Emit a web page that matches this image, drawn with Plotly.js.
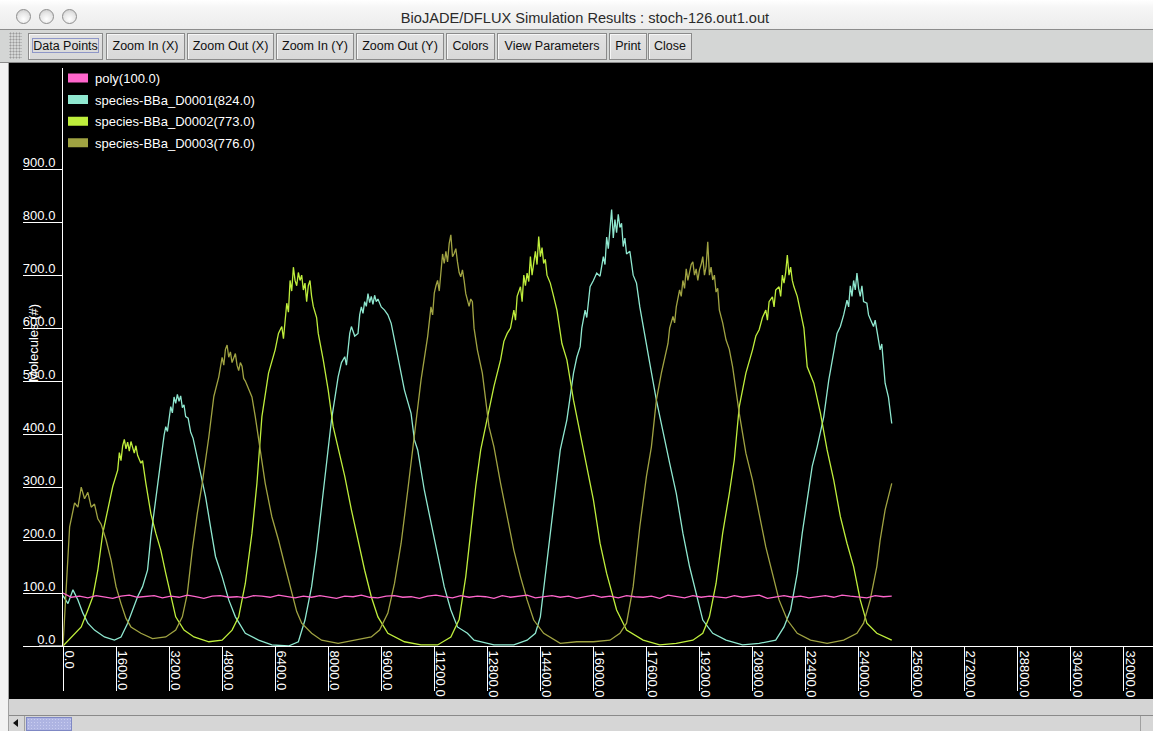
<!DOCTYPE html>
<html>
<head>
<meta charset="utf-8">
<script src="https://cdn.plot.ly/plotly-3.0.1.min.js"></script>
<style>
  html, body { margin:0; padding:0; }
  body { width:1153px; height:731px; overflow:hidden; position:relative; background:#d4d4d4;
         font-family:"Liberation Sans", Arial, sans-serif; }
  #titlebar { position:absolute; left:0; top:0; width:1153px; height:29px;
              background:linear-gradient(#ffffff 0%, #f6f6f6 25%, #ececec 100%);
              border-bottom:1px solid #8c8c8c; }
  .wbtn { position:absolute; top:9px; width:13px; height:13px; border-radius:50%;
          border:1px solid #8e8e8e; background:radial-gradient(circle at 50% 70%, #ffffff 0%, #e6e6e6 55%, #c4c4c4 100%); }
  #title { position:absolute; left:385px; width:400px; top:0; height:29px; line-height:36px; white-space:nowrap;
           text-align:center; font-size:14.6px; color:#2a2a2a; }
  #toolbar { position:absolute; left:0; top:30px; width:1153px; height:32px; background:#d4d6d5;
             border-bottom:1px solid #8a8a8a; }
  #grip { position:absolute; left:9px; top:2px; width:13px; height:27px;
          background-image:radial-gradient(#9a9a9a 0.9px, transparent 1.1px); background-size:3px 3px; }
  .btn { position:absolute; top:3px; height:27px; box-sizing:border-box; border:1px solid #8a8a8a;
         background:linear-gradient(#e2e2e2, #d8d8d8); box-shadow: inset 1px 1px 0 #f6f6f6;
         font-size:12.5px; line-height:25px; text-align:center; color:#111; white-space:nowrap; overflow:hidden; }
  .focus { position:absolute; left:3px; top:4px; right:3px; bottom:6px; border:1px solid #8f97c8; }
  #leftframe { position:absolute; left:0; top:63px; width:8px; height:668px; background:#f2f2f2;
               border-right:1px solid #a0a0a0; }
  #chart { position:absolute; left:9px; top:63px; width:1144px; height:636px; background:#000; }
  #bottom { position:absolute; left:9px; top:699px; width:1144px; height:16px; background:#d4d4d4;
            border-bottom:1px solid #8a8a8a; }
  #scroll { position:absolute; left:9px; top:716px; width:1144px; height:15px; background:#d6d6d6; }
  #larrow { position:absolute; left:0; top:0; width:15px; height:15px; background:#d6d6d6; border-right:1px solid #a0a0a0; }
  #larrow:after { content:""; position:absolute; left:4px; top:3px; border-top:4px solid transparent;
                  border-bottom:4px solid transparent; border-right:5px solid #111; }
  #thumb { position:absolute; left:17px; top:1px; width:46px; height:14px; box-sizing:border-box;
           border:1px solid #7f88c4; background-color:#aeb4e2;
           background-image:radial-gradient(#c9cdf0 0.8px, transparent 1px); background-size:3px 3px; }
  #rarrow { position:absolute; left:1131px; top:0; width:13px; height:15px; border-left:1px solid #a0a0a0; }
</style>
</head>
<body>
<div id="titlebar">
  <div class="wbtn" style="left:16px"></div>
  <div class="wbtn" style="left:39px"></div>
  <div class="wbtn" style="left:62px"></div>
  <div id="title">BioJADE/DFLUX Simulation Results : stoch-126.out1.out</div>
</div>
<div id="toolbar">
  <div id="grip"></div>
  <div class="btn" style="left:28px;width:75px">Data Points<div class="focus"></div></div>
  <div class="btn" style="left:106px;width:79px">Zoom In (X)</div>
  <div class="btn" style="left:187px;width:87px">Zoom Out (X)</div>
  <div class="btn" style="left:276px;width:78px">Zoom In (Y)</div>
  <div class="btn" style="left:356px;width:88px">Zoom Out (Y)</div>
  <div class="btn" style="left:446px;width:49px">Colors</div>
  <div class="btn" style="left:497px;width:110px">View Parameters</div>
  <div class="btn" style="left:609px;width:38px">Print</div>
  <div class="btn" style="left:648px;width:44px">Close</div>
</div>
<div id="leftframe"></div>
<div id="chart"></div>
<div id="bottom"></div>
<div id="scroll"><div id="larrow"></div><div id="thumb"></div><div id="rarrow"></div></div>

<script>
// ---------- data ----------
const seriesNames = ["poly(100.0)", "species-BBa_D0001(824.0)", "species-BBa_D0002(773.0)", "species-BBa_D0003(776.0)"];
const seriesColors = ["#ff66cc", "#8fe8d0", "#bfee3c", "#a0a342"];

// poly, sampled every 250 time units
const polyStep = 250;
const polyValues = [
  100,92,94,91,95,93,90,94,96,92,
  93,95,91,94,92,96,93,90,94,95,
  92,93,91,95,94,92,96,93,91,94,
  92,95,93,90,94,93,96,92,91,94,
  95,92,93,90,94,96,93,91,95,92,
  94,93,90,95,92,94,96,91,93,95,
  92,94,90,93,96,92,94,91,95,93,
  92,94,90,96,93,91,95,92,94,93,
  91,95,92,94,96,90,93,95,92,94,
  91,93,95,92,96,94,93,91,95,93,
  94];

// species-BBa_D0001
const d0001Time = [
  0,150,300,450,600,750,950,1250,1550,1750,
  1950,2100,2250,2400,2550,2650,2800,2950,3050,3100,
  3150,3250,3300,3350,3400,3450,3500,3550,3600,3650,
  3700,3775,3850,3925,4000,4150,4300,4450,4600,4800,
  5000,5200,5500,5900,6300,6800,7100,7300,7500,7650,
  7800,7950,8100,8300,8400,8500,8550,8650,8700,8800,
  8900,8950,9000,9050,9100,9150,9200,9250,9300,9350,
  9400,9450,9500,9600,9700,9800,9900,10000,10100,10300,
  10500,10600,10700,10900,11100,11300,11500,11700,11900,12200,
  12400,13000,13600,14000,14250,14400,14550,14700,14850,15000,
  15200,15400,15500,15600,15650,15750,15800,15900,16000,16100,
  16200,16300,16350,16400,16450,16500,16550,16600,16650,16700,
  16750,16800,16850,16900,16950,17000,17100,17200,17300,17400,
  17500,17700,17900,18100,18300,18500,18700,18900,19100,19300,
  19600,20000,20500,21000,21500,21750,21950,22150,22300,22450,
  22600,22750,22950,23100,23250,23350,23450,23550,23650,23700,
  23750,23800,23850,23900,23950,24000,24050,24100,24150,24250,
  24300,24450,24500,24650,24700,24800,24900,25000];
const d0001Values = [
  95,80,106,87,62,43,30,17,11,17,
  43,68,93,112,143,206,282,357,398,414,
  405,452,440,470,458,475,462,472,450,455,
  433,430,404,392,370,320,282,225,169,131,
  87,55,24,11,2,0,8,49,112,181,
  269,345,427,508,535,546,530,590,603,585,
  590,625,640,628,650,641,665,648,660,645,
  662,650,655,640,634,625,609,580,546,483,
  439,389,370,294,232,169,112,68,36,24,
  11,2,2,11,24,55,131,213,294,370,
  427,515,545,565,600,634,620,678,690,704,
  698,735,720,772,750,795,824,770,805,780,
  815,790,798,754,770,740,745,700,685,640,
  603,534,464,401,345,288,213,150,99,49,
  24,11,2,5,11,36,68,137,213,276,
  339,376,433,502,559,590,603,625,653,640,
  680,660,690,672,704,675,660,680,650,647,
  625,603,615,559,570,496,470,420];

// species-BBa_D0002
const d0002Time = [
  0,250,550,750,900,1050,1200,1350,1500,1650,
  1700,1750,1800,1850,1900,1950,2000,2050,2100,2150,
  2200,2250,2350,2400,2500,2650,2800,2950,3100,3250,
  3400,3650,3950,4400,4800,5100,5300,5500,5700,5850,
  6000,6200,6400,6500,6600,6650,6750,6800,6850,6900,
  6950,7000,7050,7100,7150,7200,7250,7300,7350,7400,
  7450,7500,7550,7650,7700,7850,8000,8150,8300,8500,
  8700,8900,9100,9300,9500,9800,10300,10800,11300,11700,
  11950,12150,12300,12450,12600,12800,13000,13200,13300,13400,
  13500,13600,13650,13700,13800,13850,13900,13950,14000,14050,
  14100,14150,14200,14250,14300,14350,14400,14450,14500,14550,
  14600,14700,14800,14900,15050,15200,15400,15600,15800,16000,
  16200,16400,16700,17000,17500,18000,18500,19000,19300,19500,
  19700,19900,20100,20250,20400,20600,20800,20900,21000,21100,
  21200,21250,21300,21400,21450,21500,21600,21650,21700,21750,
  21800,21850,21900,21950,22000,22050,22150,22250,22350,22450,
  22650,22850,23050,23250,23450,23650,23850,24050,24250,24550,
  25000];
const d0002Values = [
  0,17,36,68,93,143,213,257,301,332,
  365,350,378,390,372,385,368,386,372,364,
  378,360,345,350,307,250,213,181,137,93,
  55,30,17,8,11,30,55,118,213,307,
  433,515,559,590,603,580,647,630,690,670,
  715,690,680,705,690,700,672,685,650,680,
  690,660,641,620,590,540,483,414,376,320,
  257,200,143,93,55,24,8,2,2,17,
  50,131,213,301,370,433,490,540,575,590,
  600,634,615,660,678,650,700,680,704,688,
  735,700,729,745,720,773,735,752,722,730,
  700,685,660,634,571,540,464,401,339,276,
  194,137,68,30,11,2,5,11,24,55,
  118,213,288,351,452,515,559,585,597,620,
  634,615,650,659,640,672,678,660,700,685,
  705,738,700,715,690,678,660,628,600,527,
  496,439,370,313,244,194,150,87,43,24,
  11];

// species-BBa_D0003
const d0003Time = [
  0,100,200,350,450,550,650,750,850,950,
  1050,1150,1300,1450,1600,1750,1900,2050,2350,2700,
  3100,3400,3600,3750,3900,4050,4200,4400,4550,4700,
  4750,4800,4850,4900,4950,5000,5050,5100,5200,5250,
  5300,5350,5400,5450,5500,5600,5700,5800,5950,6100,
  6300,6500,6700,6900,7050,7200,7500,7800,8300,8800,
  9300,9550,9800,10000,10200,10400,10600,10800,11000,11050,
  11100,11150,11200,11250,11300,11350,11400,11450,11500,11550,
  11600,11650,11700,11750,11800,11850,11900,11950,12000,12050,
  12100,12150,12250,12300,12350,12400,12500,12650,12850,13000,
  13200,13400,13600,13800,14000,14200,14500,15000,15500,16000,
  16500,16800,17000,17200,17400,17600,17750,17900,18050,18250,
  18300,18400,18450,18500,18550,18600,18650,18700,18750,18800,
  18850,18900,18950,19000,19050,19100,19150,19200,19250,19300,
  19350,19400,19450,19500,19550,19600,19650,19700,19750,19800,
  19900,20000,20100,20200,20400,20600,20800,21000,21200,21400,
  21600,21850,22150,22550,23050,23550,23950,24150,24350,24550,
  24650,24800,25000];
const d0003Values = [
  0,118,225,270,262,300,278,290,262,268,
  240,230,200,162,112,80,52,36,24,14,
  17,30,55,99,181,250,307,395,471,508,
  525,545,530,560,568,545,555,535,552,530,
  520,535,528,505,500,483,470,433,370,307,
  244,200,150,99,65,43,24,11,5,11,
  17,30,62,118,194,294,395,502,584,620,
  640,625,666,680,690,670,704,740,722,745,
  725,760,776,735,741,750,725,705,697,710,
  690,665,641,655,650,600,559,515,414,376,
  307,244,181,131,87,49,24,5,8,8,
  11,24,43,112,225,320,376,464,515,571,
  600,622,610,640,655,672,660,690,675,712,
  690,704,720,725,700,712,690,710,720,735,
  700,716,763,700,715,691,700,668,675,634,
  610,578,560,527,439,364,313,250,187,137,
  87,49,24,11,5,11,24,43,87,150,
  200,257,307];

// axis ticks
const xTickValues = [0,1600,3200,4800,6400,8000,9600,11200,12800,14400,16000,17600,19200,20800,22400,24000,25600,27200,28800,30400,32000];
const yTickValues = [0,100,200,300,400,500,600,700,800,900];
const yAxisTitle = "Molecules (#)";

// ---------- traces ----------
const polyTime = polyValues.map((_, i) => i * polyStep);
const seriesData = [
  [d0001Time, d0001Values, 1],
  [d0002Time, d0002Values, 2],
  [d0003Time, d0003Values, 3],
  [polyTime, polyValues, 0]
];
const traces = seriesData.map(([t, v, k]) => ({
  type: "scatter", mode: "lines", x: t, y: v, name: seriesNames[k],
  line: { color: seriesColors[k], width: 1.3 },
  showlegend: false, hoverinfo: "skip"
}));
// legend swatches (filled blocks, as in the original legend)
seriesNames.forEach((nm, k) => traces.push({
  type: "scatter", mode: "lines", x: [null], y: [null], name: nm,
  legendgroup: "g" + k, line: { color: seriesColors[k], width: 9, dash: "0px,8px,20px,100px" },
  showlegend: true, hoverinfo: "skip"
}));

const plotW = 1090, plotH = 578;
const layout = {
  width: 1144, height: 636,
  margin: { l: 54, r: 0, t: 5, b: 53, pad: 0 },
  paper_bgcolor: "#000", plot_bgcolor: "#000",
  font: { family: "Liberation Sans, Arial, sans-serif", size: 13, color: "#fff" },
  showlegend: true,
  legend: { x: -8 / plotW, y: 1 + 5 / plotH, xanchor: "left", yanchor: "top", bgcolor: "rgba(0,0,0,0)",
            font: { size: 13, color: "#fff" }, itemwidth: 30, tracegroupgap: 1.7, traceorder: "grouped" },
  xaxis: {
    range: [0, 32881], tickmode: "array", tickvals: xTickValues, tickformat: ".1f",
    tickangle: 90, ticks: "outside", ticklen: 44, tickwidth: 1, tickcolor: "#fff",
    showline: true, linecolor: "#fff", linewidth: 1, showgrid: false, zeroline: false,
    ticklabelstandoff: -43, ticklabelshift: 6,
    tickfont: { size: 13, color: "#fff" }, fixedrange: true
  },
  yaxis: {
    range: [0, 1091], tickmode: "array", tickvals: yTickValues, tickformat: ".1f",
    ticks: "outside", ticklen: 39, tickwidth: 1, tickcolor: "#ffffff",
    showline: true, linecolor: "#fff", linewidth: 1, showgrid: false, zeroline: false,
    ticklabelstandoff: -35, ticklabelshift: -7,
    tickfont: { size: 13, color: "#fff" }, fixedrange: true
  },
  annotations: [{
    text: yAxisTitle, textangle: -90, xref: "paper", yref: "paper",
    x: -30 / plotW, y: (646 - 343) / plotH, showarrow: false,
    xanchor: "center", yanchor: "middle", font: { size: 13, color: "#fff" }
  }],
  shapes: [{
    type: "line", xref: "paper", yref: "paper", x0: -24 / plotW, x1: 0, y0: 0, y1: 0,
    line: { color: "#fff", width: 1 }
  }]
};

Plotly.newPlot("chart", traces, layout, { displayModeBar: false, staticPlot: true });
</script>
</body>
</html>
